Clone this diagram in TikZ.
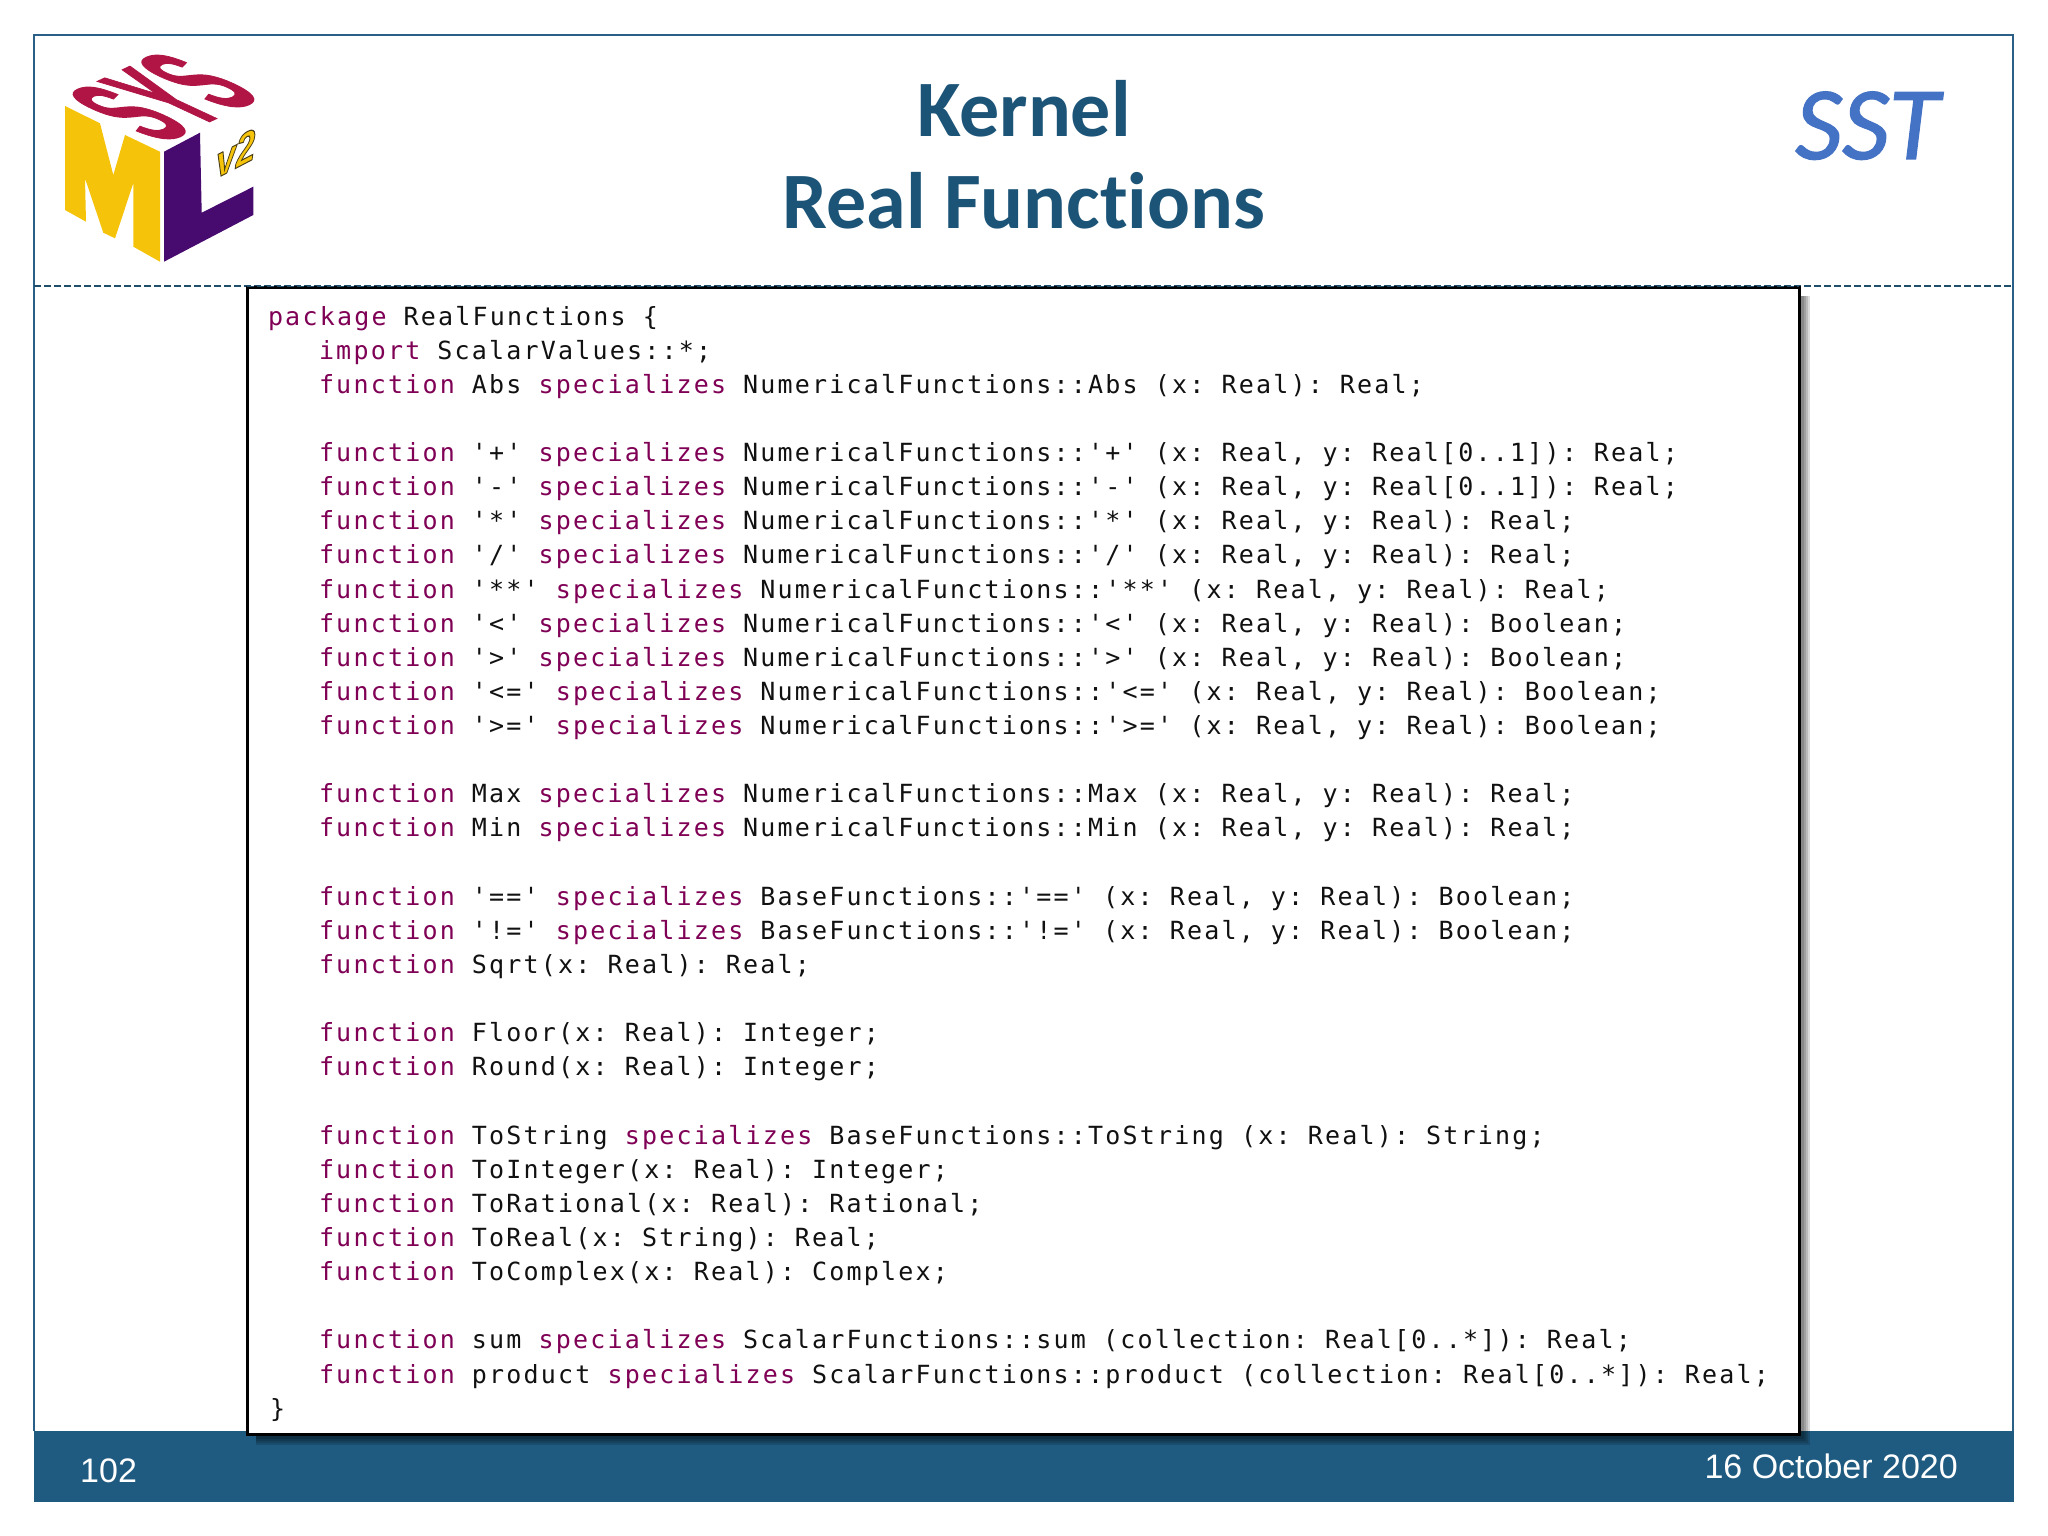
\documentclass[tikz,border=0pt]{standalone}
\usepackage{fontspec}
\setmainfont{Liberation Sans}
\newfontfamily\codefont[LetterSpace=8.8]{DejaVu Sans Mono}
\newfontfamily\titlefont[Ligatures=NoCommon]{Carlito}
\newfontfamily\sstfont[FakeBold=1.2]{Carlito}
\newfontfamily\vfont[FakeBold=2.5]{Liberation Sans}
\newfontfamily\sysfont[FakeBold=1.5]{Liberation Sans}
\definecolor{band}{HTML}{1F5A80}
\definecolor{rule}{HTML}{2A6088}
\definecolor{dashc}{HTML}{1F4E6B}
\definecolor{titlec}{HTML}{1C5478}
\definecolor{sstc}{HTML}{4472C4}
\definecolor{kwc}{HTML}{7F0055}
\definecolor{codec}{HTML}{111111}
\definecolor{myellow}{HTML}{F5C40A}
\definecolor{lpurple}{HTML}{470A6E}
\definecolor{scrimson}{HTML}{B01545}
\newcommand{\kw}[1]{\textcolor{kwc}{#1}}
\newcommand{\codesetup}{\frenchspacing\fontdimen2\font=17.1pt\relax}
\newcommand{\codeline}[3]{\node[codetext] (l#1) at (#2,{325+34.13*#1}) {\codesetup #3};}
\tikzset{
  codetext/.style={anchor=base west,inner sep=0pt,outer sep=0pt,text=codec,font=\fontsize{25}{30}\selectfont\codefont},
  titletext/.style={anchor=base,inner sep=0pt,text=titlec,font=\fontsize{80}{86}\selectfont\titlefont\bfseries},
  foottext/.style={inner sep=0pt,text=white},
  shadowbox/.style={fill=black,opacity=0.14,draw=none}
}
\begin{document}
\begin{tikzpicture}[x=1pt,y=-1pt]
\useasboundingbox (0,0) rectangle (2048,1536);
\fill[white] (0,0) rectangle (2048,1536);
% frame and footer band
\fill[band] (34,1431) rectangle (2014,1502);
\draw[rule,line width=2.2pt] (34,1431) -- (34,35) -- (2013,35) -- (2013,1431);
\draw[dashc,line width=2pt,dash pattern=on 7pt off 3pt] (34,286) -- (2013,286);
% logo
\fill[myellow] (65,106) -- (100,123.3) -- (113.3,175) -- (125,135) -- (160,151.7) -- (160,261.7) -- (133.3,246.7) -- (133.3,183.3) -- (115,238.3) -- (103.3,232.7) -- (85,178.3) -- (86,221.7) -- (65,210) -- cycle;
\fill[lpurple] (164,151.7) -- (200,132.7) -- (201.7,212.7) -- (253.3,186.7) -- (253.3,215) -- (164,261.7) -- cycle;
\node[inner sep=0pt,text=scrimson,font=\fontsize{66}{66}\selectfont\sysfont\bfseries,cm={0.78,0.363,-2.17,1.01,(0,0)}] (sys) at (163.3,97) {SYS};
\node[inner sep=0pt,text=myellow,font=\fontsize{44}{44}\selectfont\vfont\bfseries\itshape,cm={0.8,0.42,0,1,(0,0)}] (v2) at (235.7,153) {\special{pdf:code 0.3 0.25 0.1 RG}v2};
% titles
\node[titletext] (t1) at (1024,136) {Kernel};
\node[titletext] (t2) at (1024,228) {Real Functions};
\node[anchor=base west,inner sep=0pt,text=sstc,font=\fontsize{104}{104}\selectfont\sstfont\itshape] (sst) at (1795,159) {SST};
% code box
\foreach \k in {11,9,7,5}{\fill[shadowbox] (256,296) rectangle (1799+\k,1434+\k);}
\draw[black,line width=3pt,fill=white] (247,287) rectangle (1799,1434);
\draw[dashc,line width=1pt,dash pattern=on 7pt off 3pt] (247,286) -- (1799,286);
\codeline{0}{268}{\kw{package} RealFunctions \{}
\codeline{1}{319}{\kw{import} ScalarValues::*;}
\codeline{2}{319}{\kw{function} Abs \kw{specializes} NumericalFunctions::Abs (x: Real): Real;}
\codeline{4}{319}{\kw{function} '+' \kw{specializes} NumericalFunctions::'+' (x: Real, y: Real[0..1]): Real;}
\codeline{5}{319}{\kw{function} '-' \kw{specializes} NumericalFunctions::'-' (x: Real, y: Real[0..1]): Real;}
\codeline{6}{319}{\kw{function} '*' \kw{specializes} NumericalFunctions::'*' (x: Real, y: Real): Real;}
\codeline{7}{319}{\kw{function} '/' \kw{specializes} NumericalFunctions::'/' (x: Real, y: Real): Real;}
\codeline{8}{319}{\kw{function} '**' \kw{specializes} NumericalFunctions::'**' (x: Real, y: Real): Real;}
\codeline{9}{319}{\kw{function} '<' \kw{specializes} NumericalFunctions::'<' (x: Real, y: Real): Boolean;}
\codeline{10}{319}{\kw{function} '>' \kw{specializes} NumericalFunctions::'>' (x: Real, y: Real): Boolean;}
\codeline{11}{319}{\kw{function} '<=' \kw{specializes} NumericalFunctions::'<=' (x: Real, y: Real): Boolean;}
\codeline{12}{319}{\kw{function} '>=' \kw{specializes} NumericalFunctions::'>=' (x: Real, y: Real): Boolean;}
\codeline{14}{319}{\kw{function} Max \kw{specializes} NumericalFunctions::Max (x: Real, y: Real): Real;}
\codeline{15}{319}{\kw{function} Min \kw{specializes} NumericalFunctions::Min (x: Real, y: Real): Real;}
\codeline{17}{319}{\kw{function} '==' \kw{specializes} BaseFunctions::'==' (x: Real, y: Real): Boolean;}
\codeline{18}{319}{\kw{function} '!=' \kw{specializes} BaseFunctions::'!=' (x: Real, y: Real): Boolean;}
\codeline{19}{319}{\kw{function} Sqrt(x: Real): Real;}
\codeline{21}{319}{\kw{function} Floor(x: Real): Integer;}
\codeline{22}{319}{\kw{function} Round(x: Real): Integer;}
\codeline{24}{319}{\kw{function} ToString \kw{specializes} BaseFunctions::ToString (x: Real): String;}
\codeline{25}{319}{\kw{function} ToInteger(x: Real): Integer;}
\codeline{26}{319}{\kw{function} ToRational(x: Real): Rational;}
\codeline{27}{319}{\kw{function} ToReal(x: String): Real;}
\codeline{28}{319}{\kw{function} ToComplex(x: Real): Complex;}
\codeline{30}{319}{\kw{function} sum \kw{specializes} ScalarFunctions::sum (collection: Real[0..*]): Real;}
\codeline{31}{319}{\kw{function} product \kw{specializes} ScalarFunctions::product (collection: Real[0..*]): Real;}
\codeline{32}{270}{\}}
% footer
\node[foottext,anchor=base west,font=\fontsize{34}{34}\selectfont] (page) at (80,1482) {102};
\node[foottext,anchor=base east,font=\fontsize{34}{34}\selectfont] (date) at (1958,1478) {16 October 2020};
\end{tikzpicture}
\end{document}
